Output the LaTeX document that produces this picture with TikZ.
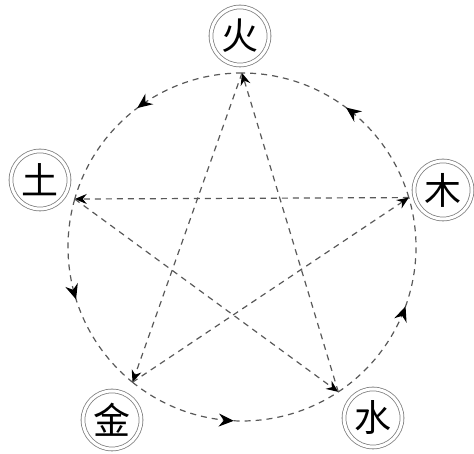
\documentclass[tikz,border=0pt]{standalone}
\usepackage{fontspec}
\newfontfamily\cjk{Noto Sans CJK SC}
\usetikzlibrary{arrows.meta,decorations.markings}

\tikzset{
  elem/.style={circle, draw=black!50, double=white, double distance=3pt, line width=0.8pt,
    fill=white, minimum size=58pt, inner sep=0pt, font=\cjk\fontsize{37}{37}\selectfont},
  ring/.style={draw=black!65, line width=1.2pt, dash pattern=on 6pt off 5pt,
    postaction={decorate},
    decoration={markings, mark=at position 0.5 with {\arrow[black]{Stealth[length=15pt,width=13pt,inset=5pt]}}}},
  star/.style={draw=black!65, line width=1.2pt, dash pattern=on 6pt off 5pt,
    -{Stealth[length=12pt,width=10pt,inset=4pt,color=black]}}
}

\begin{document}
\begin{tikzpicture}[x=1pt,y=1pt]
  \useasboundingbox (0,0) rectangle (474,454);
  \begin{scope}[shift={(242,207)}]
    \coordinate (pHuo)  at (90:174);
    \coordinate (pTu)   at (164:174);
    \coordinate (pJin)  at (231:174);
    \coordinate (pShui) at (303.6:174);
    \coordinate (pMu)   at (16.5:174);

    \foreach \s/\a/\b in {pHuo/90/164, pTu/164/231, pJin/231/303.6, pShui/303.6/376.5, pMu/16.5/90}
      \draw[ring] (\s) arc[start angle=\a, end angle=\b, radius=174];

    \foreach \s/\t in {pMu/pTu, pTu/pShui, pShui/pHuo, pHuo/pJin, pJin/pMu}
      \draw[star] (\s) -- (\t);

    \node[elem] (Huo)  at (-2,211)    {火};
    \node[elem] (Tu)   at (-202,67)   {土};
    \node[elem] (Mu)   at (201,57)    {木};
    \node[elem] (Jin)  at (-130,-173) {金};
    \node[elem] (Shui) at (131,-171)  {水};
  \end{scope}
\end{tikzpicture}
\end{document}
